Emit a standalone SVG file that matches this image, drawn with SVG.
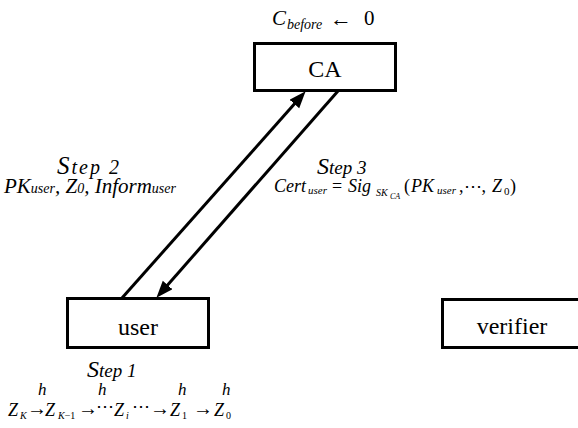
<svg xmlns="http://www.w3.org/2000/svg" width="578" height="428" viewBox="0 0 578 428">
<defs>
<style>
.box{fill:#fff;stroke:#000;stroke-width:3}
.lbl{font-size:24px;fill:#000;text-anchor:middle}
.it{font-style:italic;fill:#000}
.rm{font-style:normal;fill:#000}
.conn{stroke:#000;stroke-width:3;fill:none}
</style>
<marker id="ah" markerUnits="userSpaceOnUse" markerWidth="18" markerHeight="14" refX="4" refY="6.5" orient="auto">
<path d="M0,0 L17,6.5 L0,13 z" fill="#000"/>
</marker>
</defs>
<rect width="578" height="428" fill="#fff"/>
<g font-family="Liberation Serif, Times New Roman, Times, DejaVu Serif, serif">
<g id="CA">
<rect class="box" x="254.5" y="43.5" width="141" height="47"/>
<text class="lbl" x="325" y="77">CA</text>
</g>
<g id="user">
<rect class="box" x="67.5" y="298.5" width="141" height="49"/>
<text class="lbl" x="138" y="335">user</text>
</g>
<g id="verifier">
<rect class="box" x="442.5" y="299.5" width="140" height="48"/>
<text class="lbl" x="512" y="334">verifier</text>
</g>

<g id="connectors">
<line class="conn" x1="122" y1="298" x2="297" y2="101" marker-end="url(#ah)"/>
<line class="conn" x1="338" y1="91" x2="165" y2="288" marker-end="url(#ah)"/>
</g>

<g id="labels">
<text x="272" y="25"><tspan class="it" font-size="21">C</tspan><tspan class="it" font-size="14" x="287" y="29">before</tspan><tspan class="rm" font-size="22" x="330" y="26">←</tspan><tspan class="rm" font-size="21" x="364" y="25">0</tspan></text>

<text class="it" x="57" y="174" letter-spacing="2"><tspan font-size="25">S</tspan><tspan font-size="20">tep 2</tspan></text>
<text class="it" x="4" y="193"><tspan font-size="21">PK</tspan><tspan font-size="14">user</tspan><tspan font-size="21">, Z</tspan><tspan font-size="14">0</tspan><tspan font-size="21">, Inform</tspan><tspan font-size="14">user</tspan></text>

<text class="it" x="317" y="174"><tspan font-size="24">S</tspan><tspan font-size="19">tep 3</tspan></text>
<text x="274" y="192"><tspan class="it" font-size="18">Cert</tspan><tspan class="it" font-size="11" x="308" y="194">user</tspan><tspan class="rm" font-size="18" x="332" y="192">=</tspan><tspan class="it" font-size="18" x="348">Sig</tspan><tspan class="it" font-size="10" x="376" y="196">SK</tspan><tspan class="it" font-size="8" x="390" y="199">CA</tspan><tspan class="rm" font-size="18" x="404" y="192">(</tspan><tspan class="it" font-size="18" x="411">PK</tspan><tspan class="it" font-size="11" x="437" y="194">user</tspan><tspan class="rm" font-size="18" x="459" y="192">,⋯,</tspan><tspan class="it" font-size="18" x="492">Z</tspan><tspan class="rm" font-size="11" x="504" y="195">0</tspan><tspan class="rm" font-size="18" x="510" y="192">)</tspan></text>

<text class="it" x="87" y="377"><tspan font-size="24">S</tspan><tspan font-size="19">tep 1</tspan></text>
<g class="it" font-size="17">
<text x="38" y="395">h</text>
<text x="98" y="395">h</text>
<text x="178" y="395">h</text>
<text x="222" y="395">h</text>
</g>
<text y="416"><tspan class="it" font-size="18" x="8">Z</tspan><tspan class="it" font-size="10" x="20" y="419">K</tspan><tspan class="rm" font-size="20" x="27" y="415">→</tspan><tspan class="it" font-size="18" x="45" y="416">Z</tspan><tspan class="it" font-size="10" x="58" y="419">K</tspan><tspan class="rm" font-size="10">−1</tspan><tspan class="rm" font-size="20" x="78" y="415">→</tspan><tspan class="rm" font-size="18" x="96" y="412">⋯</tspan><tspan class="it" font-size="18" x="114" y="416">Z</tspan><tspan class="it" font-size="10" x="126" y="419">i</tspan><tspan class="rm" font-size="18" x="132" y="412">⋯</tspan><tspan class="rm" font-size="20" x="150" y="415">→</tspan><tspan class="it" font-size="18" x="170" y="416">Z</tspan><tspan class="rm" font-size="10" x="182" y="419">1</tspan><tspan class="rm" font-size="20" x="193" y="415">→</tspan><tspan class="it" font-size="18" x="214" y="416">Z</tspan><tspan class="rm" font-size="10" x="226" y="419">0</tspan></text>
</g>
</g>
</svg>
